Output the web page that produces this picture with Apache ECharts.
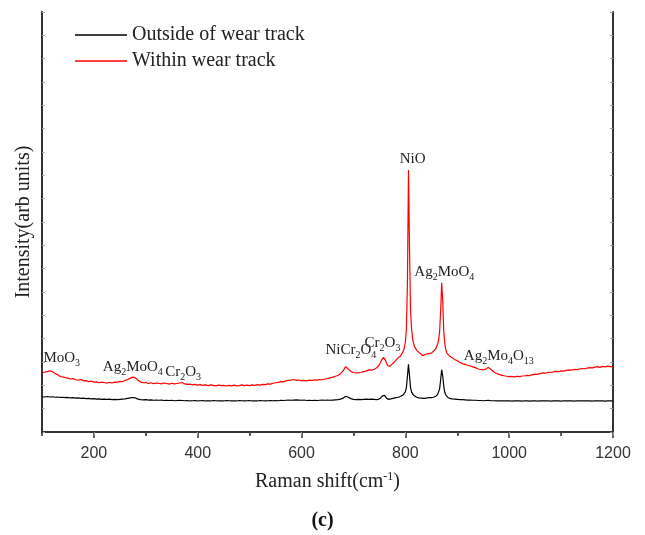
<!DOCTYPE html>
<html>
<head>
<meta charset="utf-8">
<script src="https://cdn.jsdelivr.net/npm/echarts@6/dist/echarts.min.js"></script>
<style>
  html, body { margin: 0; padding: 0; background: #fff; }
  #chart { width: 645px; height: 535px; }
</style>
</head>
<body>
<div id="chart"></div>
<script>
// Raman shift sampling (cm-1)
const ramanShift = [
  100,105,110,115,120,125,130,135,140,145,
  150,155,160,165,170,175,180,185,190,195,
  200,205,210,215,220,225,230,235,240,245,
  250,255,260,265,270,275,280,285,290,295,
  300,305,310,315,320,325,330,335,340,345,
  350,355,360,365,370,375,380,385,390,395,
  400,405,410,415,420,425,430,435,440,445,
  450,455,460,465,470,475,480,485,490,495,
  500,505,510,515,520,525,530,535,540,545,
  550,555,560,565,570,575,580,585,590,595,
  600,605,610,615,620,625,630,635,640,645,
  650,655,660,665,670,675,680,685,690,695,
  700,705,710,715,720,725,730,735,740,
  742,744,746,748,750,752,754,756,758,760,
  762,764,766,768,770,772,774,776,778,780,
  782,784,786,788,790,792,794,796,798,800,
  802,804,806,808,810,812,814,816,818,820,
  822,824,826,828,830,832,834,836,838,840,
  842,844,846,848,850,852,854,856,858,860,
  862,864,866,868,870,872,874,876,878,880,
  882,884,886,888,890,
  895,900,905,910,915,920,925,930,935,940,
  945,950,955,960,965,970,975,980,985,990,
  995,1000,1005,1010,1015,1020,1025,1030,1035,1040,
  1045,1050,1055,1060,1065,1070,1075,1080,1085,1090,
  1095,1100,1105,1110,1115,1120,1125,1130,1135,1140,
  1145,1150,1155,1160,1165,1170,1175,1180,1185,1190,
  1195,1200
];

// Intensity outside of the wear track (arb. units)
const outsideTrack = [
  151,150,152,150,151,149,150,148,149,147,
  148,146,147,145,146,144,145,143,144,142,
  143,141,142,140,141,140,141,139,140,139,
  140,141,142,144,146,148,146,141,139,138,
  139,137,138,136,137,136,137,135,136,135,
  136,134,135,136,135,134,135,133,134,135,
  133,134,135,133,134,133,135,134,133,134,
  133,135,134,133,134,133,135,134,133,134,
  135,133,134,133,135,134,133,134,135,134,
  135,134,136,135,136,137,136,137,138,137,
  136,137,135,136,135,136,135,136,137,136,
  137,136,137,138,139,141,145,153,149,143,
  140,139,140,139,140,141,140,141,140,
  140,139,141,140,142,145,150,155,159,157,
  150,144,141,140,141,142,143,144,145,146,
  147,148,149,150,152,154,157,160,165,172,
  190,240,290,240,190,172,163,158,154,151,
  149,147,146,145,145,144,144,145,144,145,
  146,145,147,146,147,148,149,150,152,155,
  160,168,185,225,266,240,195,170,158,152,
  148,146,144,143,142,
  141,140,139,139,138,137,137,136,136,135,
  135,134,135,136,134,134,133,134,133,134,
  133,134,132,133,134,133,132,134,133,132,
  133,134,132,133,134,133,134,132,133,134,
  133,132,134,133,134,133,132,134,133,134,
  133,134,133,132,134,133,134,133,132,133,
  134,133
];

// Intensity within the wear track (arb. units)
const withinTrack = [
  252,257,259,262,258,251,246,238,236,233,
  231,227,229,224,222,225,219,220,216,218,
  214,215,211,214,212,209,213,210,214,213,
  217,216,221,225,231,235,232,222,214,211,
  212,208,211,207,210,209,206,210,208,205,
  209,206,208,210,212,206,204,205,202,204,
  201,203,200,202,199,202,200,198,201,199,
  200,197,200,198,201,198,199,202,199,201,
  199,202,200,203,201,204,203,206,205,209,
  211,213,216,215,219,221,223,225,221,223,
  220,221,219,222,221,223,222,225,224,227,
  229,232,235,239,242,250,262,280,270,260,
  255,253,254,256,259,262,266,265,269,
  271,274,279,283,288,297,307,315,320,318,
  306,294,284,280,282,286,290,294,298,303,
  308,314,318,321,324,330,338,347,360,385,
  440,640,1123,780,520,440,400,377,365,357,
  350,346,341,338,334,330,327,329,332,330,
  335,333,337,340,338,342,346,350,355,362,
  375,395,430,520,640,560,430,378,352,338,
  332,328,325,321,318,
  311,305,298,293,290,286,283,279,276,270,
  268,266,270,277,268,258,252,247,244,241,
  239,237,238,236,239,237,240,241,243,242,
  246,248,247,251,253,252,256,255,258,260,
  259,262,261,264,266,265,268,267,270,272,
  271,274,276,275,278,280,277,281,279,282,
  280,278
];

// Band assignments: label (rich text), shift and intensity at the label centre
const bandNames = [
  '{m|MoO}{s|3}',
  '{m|Ag}{s|2}{m|MoO}{s|4}',
  '{m|Cr}{s|2}{m|O}{s|3}',
  '{m|NiCr}{s|2}{m|O}{s|4}',
  '{m|Cr}{s|2}{m|O}{s|3}',
  '{m|NiO}',
  '{m|Ag}{s|2}{m|MoO}{s|4}',
  '{m|Ag}{s|2}{m|Mo}{s|4}{m|O}{s|13}'
];
const bandShift = [138, 275, 372, 695, 756, 814, 875, 980];
const bandLabelLevel = [317, 279, 257, 351, 381, 1170, 686, 326];

const xTickMajor = [200, 400, 600, 800, 1000, 1200];
const xTickMinor = [100, 300, 500, 700, 900, 1100];

const SERIF = '"Liberation Serif", "Times New Roman", serif';
const SANS = '"Liberation Sans", Arial, sans-serif';

function zip(xs, ys) {
  return xs.map((x, i) => [x, ys[i]]);
}

const chart = echarts.init(document.getElementById('chart'), null, { renderer: 'canvas' });

const bandMarks = bandNames.map((name, i) => ({
  coord: [bandShift[i], bandLabelLevel[i]],
  label: { formatter: name }
}));

const boxLine = { show: true, lineStyle: { color: '#333', width: 2 } };

chart.setOption({
  animation: false,
  backgroundColor: '#fff',
  title: {
    text: '(c)',
    left: 'center',
    top: 506,
    textStyle: { fontFamily: SERIF, fontWeight: 'bold', fontSize: 20, color: '#111' }
  },
  grid: { left: 42, right: 32, top: 12, bottom: 103, containLabel: false },
  legend: {
    orient: 'vertical',
    left: 70,
    top: 20,
    itemWidth: 52,
    itemHeight: 1.5,
    itemGap: 6,
    icon: 'rect',
    textStyle: { fontFamily: SERIF, fontSize: 20, color: '#222', lineHeight: 20 },
    data: ['Outside of wear track', 'Within wear track']
  },
  xAxis: [
    {
      type: 'value', position: 'bottom', min: 100, max: 1200, interval: 100,
      axisLine: boxLine,
      axisTick: { show: true, inside: false, length: 6, customValues: xTickMajor, lineStyle: { color: '#333', width: 1.5 } },
      axisLabel: {
        show: true, customValues: xTickMajor, margin: 14,
        fontFamily: SANS, fontSize: 16, color: '#333',
        formatter: v => String(v)
      },
      splitLine: { show: false },
      name: '{t|Raman shift(cm}{sup|-1}{t|)}',
      nameLocation: 'middle',
      nameGap: 39,
      nameTextStyle: {
        rich: {
          t: { fontFamily: SERIF, fontSize: 20, color: '#222', lineHeight: 22 },
          sup: { fontFamily: SERIF, fontSize: 12, color: '#222', lineHeight: 12, verticalAlign: 'top' }
        }
      }
    },
    {
      type: 'value', position: 'top', min: 100, max: 1200, interval: 100,
      axisLine: boxLine,
      axisTick: { show: true, inside: true, length: 3, lineStyle: { color: '#999', width: 1 } },
      axisLabel: { show: false },
      splitLine: { show: false }
    },
    {
      type: 'value', position: 'bottom', min: 100, max: 1200, interval: 100,
      axisLine: { show: false },
      axisTick: { show: true, inside: false, length: 4, customValues: xTickMinor, lineStyle: { color: '#333', width: 1.5 } },
      axisLabel: { show: false },
      splitLine: { show: false }
    }
  ],
  yAxis: [
    {
      type: 'value', position: 'left', min: 0, max: 1800, interval: 100,
      axisLine: boxLine,
      axisTick: { show: true, inside: true, length: 3, lineStyle: { color: '#aaa', width: 1 } },
      axisLabel: { show: false },
      splitLine: { show: false },
      name: 'Intensity(arb units)',
      nameLocation: 'middle',
      nameGap: 8,
      nameTextStyle: { fontFamily: SERIF, fontSize: 20, color: '#222' }
    },
    {
      type: 'value', position: 'right', min: 0, max: 1800, interval: 100,
      axisLine: boxLine,
      axisTick: { show: true, inside: true, length: 3, lineStyle: { color: '#999', width: 1 } },
      axisLabel: { show: false },
      splitLine: { show: false }
    }
  ],
  series: [
    {
      name: 'Outside of wear track',
      type: 'line',
      xAxisIndex: 0, yAxisIndex: 0,
      data: zip(ramanShift, outsideTrack),
      symbol: 'none',
      color: '#000',
      lineStyle: { color: '#000', width: 1.2 },
      z: 3
    },
    {
      name: 'Within wear track',
      type: 'line',
      xAxisIndex: 0, yAxisIndex: 0,
      data: zip(ramanShift, withinTrack),
      symbol: 'none',
      color: '#ff0000',
      lineStyle: { color: '#ff0000', width: 1.2 },
      z: 4,
      markPoint: {
        symbol: 'circle',
        symbolSize: 1,
        itemStyle: { color: 'rgba(0,0,0,0)' },
        silent: true,
        label: {
          show: true,
          position: 'inside',
          rich: {
            m: { fontFamily: SERIF, fontSize: 15, color: '#222', lineHeight: 20 },
            s: { fontFamily: SERIF, fontSize: 10, color: '#222', lineHeight: 10, verticalAlign: 'bottom' }
          }
        },
        data: bandMarks
      }
    }
  ]
});
</script>
</body>
</html>
